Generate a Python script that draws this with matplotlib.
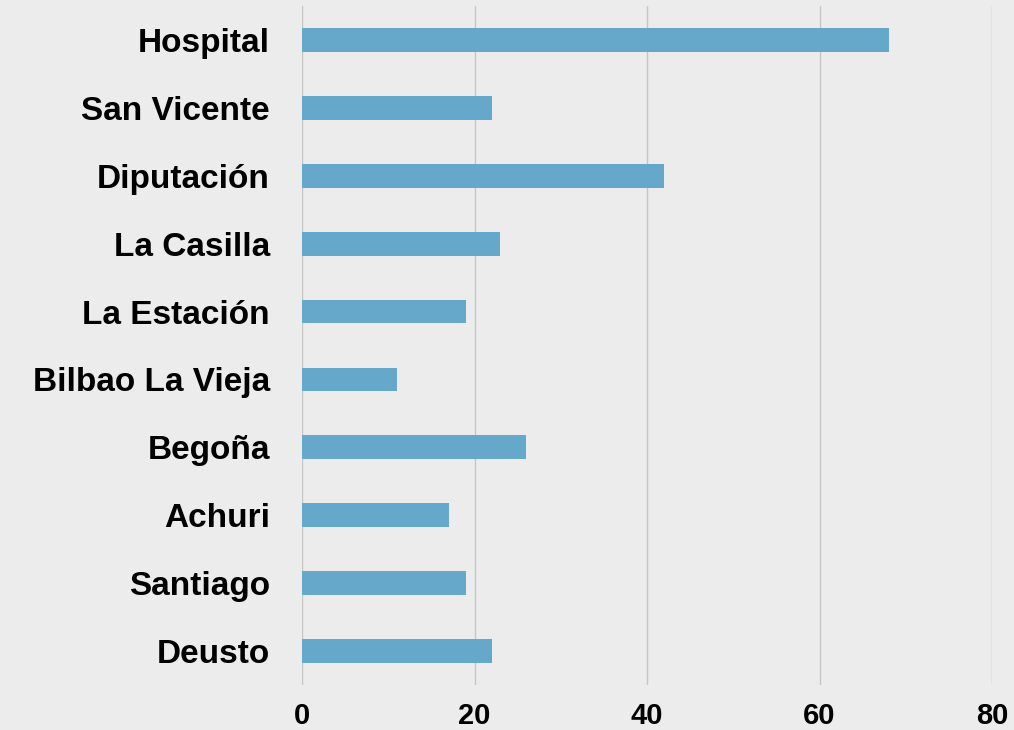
import matplotlib.pyplot as plt

# Barrios, top to bottom as shown
barrios = ["Hospital", "San Vicente", "Diputación", "La Casilla", "La Estación",
           "Bilbao La Vieja", "Begoña", "Achuri", "Santiago", "Deusto"]
valores = [68, 22, 42, 23, 19, 11, 26, 17, 19, 22]
x_ticks = [0, 20, 40, 60, 80]

BG = "#ececec"
BAR = "#66a8c9"

fig = plt.figure(figsize=(10.14, 7.3), dpi=100, facecolor=BG)
ax = fig.add_axes([302 / 1014, 45 / 730, 690 / 1014, 679 / 730])
ax.set_facecolor(BG)

pos = list(range(len(barrios)))[::-1]
ax.barh(pos, valores, height=0.35, color=BAR, zorder=3)

ax.set_xlim(0, 80)
ax.set_ylim(-0.5, len(barrios) - 0.5)
ax.set_xticks(x_ticks)
ax.set_yticks(pos)
ax.set_yticklabels(barrios)
ax.grid(axis="x", color="#c6c6c6", linewidth=1, zorder=0)
for s in ax.spines.values():
    s.set_visible(False)
ax.tick_params(axis="y", length=0, pad=23)
ax.tick_params(axis="x", length=0, pad=12)
for lbl in ax.get_yticklabels():
    lbl.set_fontfamily("Liberation Sans")
    lbl.set_fontweight("bold")
    lbl.set_fontsize(24)
for lbl in ax.get_xticklabels():
    lbl.set_fontfamily("Liberation Sans")
    lbl.set_fontweight("bold")
    lbl.set_fontsize(21)

fig.savefig("out.png", dpi=100, facecolor=BG)
